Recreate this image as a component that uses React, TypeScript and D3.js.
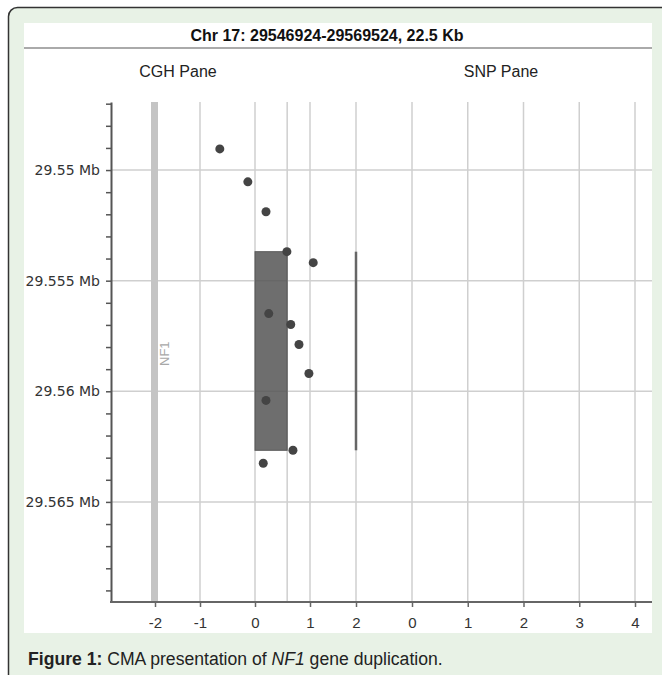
import { useEffect, useRef } from 'react';
import * as d3 from 'd3';

// CGH probes (genomic position in bp, log2 ratio)
const probePositions = [
  29549044, 29550533, 29551886, 29553690, 29554187, 29556487,
  29556983, 29557886, 29559194, 29560412, 29562667, 29563254,
];
const probeLog2Ratios = [-0.64, -0.13, 0.2, 0.58, 1.07, 0.25, 0.65, 0.8, 0.98, 0.2, 0.69, 0.15];

// called aberration (duplication)
const aberrationStart = 29553690;
const aberrationEnd = 29562667;
const aberrationValue = 0.585;

const regionStart = 29546924;
const regionEnd = 29569524;

const cghTicks = [-2, -1, 0, 1, 2];
const snpTicks = [0, 1, 2, 3, 4];
const geneName = 'NF1';
const geneLog2Pos = -2;

const title = 'Chr 17: 29546924-29569524, 22.5 Kb';

export default function App() {
  const svgRef = useRef<SVGSVGElement>(null);

  useEffect(() => {
    if (!svgRef.current) return;
    const svg = d3.select(svgRef.current);
    svg.selectAll('*').remove();

    const W = 662;
    const H = 675;
    const plot = { left: 111, right: 652, top: 102, bottom: 602 };

    // background frame
    svg.append('rect')
      .attr('x', 8.5).attr('y', 7.5)
      .attr('width', W + 20).attr('height', H + 20)
      .attr('rx', 9)
      .attr('fill', '#e8f2e6')
      .attr('stroke', '#333')
      .attr('stroke-width', 1.5);

    svg.append('rect')
      .attr('x', 24).attr('y', 23)
      .attr('width', 628).attr('height', 610)
      .attr('fill', '#fff');

    // header
    svg.append('text')
      .attr('x', 327).attr('y', 40.5)
      .attr('text-anchor', 'middle')
      .style('font-family', '"Liberation Sans", Arial, sans-serif')
      .style('font-size', '16px')
      .style('font-weight', 'bold')
      .attr('fill', '#111')
      .text(title);

    svg.append('line')
      .attr('x1', 24).attr('x2', 652)
      .attr('y1', 48).attr('y2', 48)
      .attr('stroke', '#aaa')
      .attr('stroke-width', 2);

    const paneLabel = (x: number, t: string) =>
      svg.append('text')
        .attr('x', x).attr('y', 77)
        .attr('text-anchor', 'middle')
        .style('font-family', '"Liberation Sans", Arial, sans-serif')
        .style('font-size', '16px')
        .attr('fill', '#222')
        .text(t);
    paneLabel(178, 'CGH Pane');
    paneLabel(501, 'SNP Pane');

    // scales
    const y = d3.scaleLinear()
      .domain([regionStart, regionEnd])
      .range([plot.top, plot.bottom]);

    // CGH log2 axis is not evenly spaced in the viewer
    const cgh = d3.scaleLinear()
      .domain([-3, -2, -1, 0, 1, 2])
      .range([111, 155, 200, 255, 310, 356]);

    const snp = d3.scaleLinear()
      .domain([0, 4])
      .range([412, 635]);

    const grid = svg.append('g')
      .attr('stroke', '#cfcfcf')
      .attr('stroke-width', 1.5);

    // vertical grid
    const vLines = [
      ...[-1, 0, aberrationValue, 1, 2].map(v => cgh(v)),
      ...snpTicks.map(v => snp(v)),
    ];
    grid.selectAll('line.v')
      .data(vLines)
      .enter()
      .append('line')
      .attr('class', 'v')
      .attr('x1', d => d).attr('x2', d => d)
      .attr('y1', plot.top).attr('y2', plot.bottom);

    // horizontal grid at labelled positions
    const majorTicks = d3.range(29550000, regionEnd, 5000);
    grid.selectAll('line.h')
      .data(majorTicks)
      .enter()
      .append('line')
      .attr('class', 'h')
      .attr('x1', plot.left).attr('x2', plot.right)
      .attr('y1', d => y(d)).attr('y2', d => y(d));

    // gene track
    svg.append('rect')
      .attr('x', cgh(geneLog2Pos) - 4)
      .attr('y', plot.top)
      .attr('width', 7)
      .attr('height', plot.bottom - plot.top)
      .attr('fill', '#c4c4c4');

    svg.append('text')
      .attr('transform', `translate(${cgh(geneLog2Pos) + 14},${y(29558300)}) rotate(-90)`)
      .attr('text-anchor', 'middle')
      .style('font-family', '"Liberation Sans", Arial, sans-serif')
      .style('font-size', '13px')
      .attr('fill', '#a8a8a8')
      .text(geneName);

    // aberration box
    svg.append('rect')
      .attr('x', cgh(0))
      .attr('y', y(aberrationStart))
      .attr('width', cgh(aberrationValue) - cgh(0))
      .attr('height', y(aberrationEnd) - y(aberrationStart))
      .attr('fill', '#555')
      .attr('fill-opacity', 0.85)
      .attr('stroke', '#5a5a5a')
      .attr('stroke-width', 1);

    svg.append('line')
      .attr('x1', cgh(2)).attr('x2', cgh(2))
      .attr('y1', y(aberrationStart)).attr('y2', y(aberrationEnd))
      .attr('stroke', '#666')
      .attr('stroke-width', 2.5);

    // probes
    svg.selectAll('circle.probe')
      .data(probePositions)
      .enter()
      .append('circle')
      .attr('class', 'probe')
      .attr('cx', (_, i) => cgh(probeLog2Ratios[i]))
      .attr('cy', d => y(d))
      .attr('r', 4.5)
      .attr('fill', '#444');

    // y axis
    const yAxis = svg.append('g')
      .attr('transform', `translate(${plot.left},0)`)
      .call(d3.axisLeft(y)
        .tickValues(d3.range(29547000, regionEnd, 1000))
        .tickFormat(d => (+d % 5000 === 0 ? `${+(+d / 1e6).toFixed(3)} Mb` : ''))
        .tickSize(5)
        .tickSizeOuter(0)
        .tickPadding(6));
    yAxis.select('.domain').attr('stroke', '#555').attr('stroke-width', 2);
    yAxis.selectAll('.tick line').attr('stroke', '#555').attr('stroke-width', 1.5);
    yAxis.selectAll('.tick text')
      .style('font-family', '"DejaVu Sans", sans-serif')
      .style('font-size', '14px')
      .attr('fill', '#333');

    // x axes (two panes share one baseline)
    svg.append('line')
      .attr('x1', plot.left - 1).attr('x2', plot.right)
      .attr('y1', plot.bottom).attr('y2', plot.bottom)
      .attr('stroke', '#666')
      .attr('stroke-width', 2);

    const styleX = (g: d3.Selection<SVGGElement, unknown, null, undefined>) => {
      g.select('.domain').remove();
      g.selectAll('.tick line').attr('stroke', '#666').attr('stroke-width', 1.5);
      g.selectAll('.tick text')
        .style('font-family', '"Liberation Sans Narrow", "Liberation Sans", Arial, sans-serif')
        .style('font-size', '15px')
        .attr('fill', '#333');
    };

    svg.append('g')
      .attr('transform', `translate(0,${plot.bottom})`)
      .call(d3.axisBottom(cgh).tickValues(cghTicks).tickFormat(d => String(d)).tickSize(5).tickPadding(10))
      .call(styleX);

    svg.append('g')
      .attr('transform', `translate(0,${plot.bottom})`)
      .call(d3.axisBottom(snp).tickValues(snpTicks).tickFormat(d => String(d)).tickSize(5).tickPadding(10))
      .call(styleX);

    // caption
    const cap = svg.append('text')
      .attr('x', 28).attr('y', 665)
      .style('font-family', '"Liberation Sans", Arial, sans-serif')
      .style('font-size', '17.6px')
      .attr('fill', '#222');
    cap.append('tspan').style('font-weight', 'bold').text('Figure 1:');
    cap.append('tspan').text(' CMA presentation of ');
    cap.append('tspan').style('font-style', 'italic').text('NF1');
    cap.append('tspan').text(' gene duplication.');
  }, []);

  return (
    <svg
      ref={svgRef}
      width={662}
      height={675}
      style={{ position: 'absolute', left: 0, top: 0, display: 'block' }}
    />
  );
}
